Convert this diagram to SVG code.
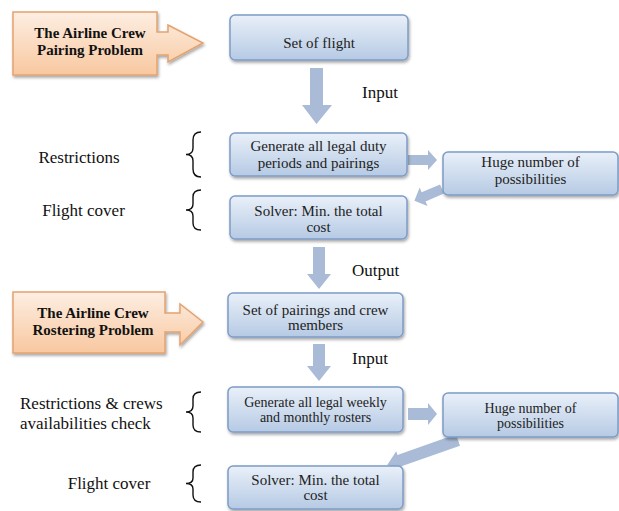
<svg xmlns="http://www.w3.org/2000/svg" width="619" height="511" viewBox="0 0 619 511">
<defs>
<linearGradient id="gb" x1="0" y1="0" x2="0" y2="1"><stop offset="0" stop-color="#e9f0f9"/><stop offset="1" stop-color="#b6cae4"/></linearGradient>
<linearGradient id="go" x1="0" y1="0" x2="0" y2="1"><stop offset="0" stop-color="#fdeee2"/><stop offset="1" stop-color="#f8c8a0"/></linearGradient>
<filter id="sh" x="-10%" y="-10%" width="120%" height="130%"><feDropShadow dx="1" dy="2" stdDeviation="1.5" flood-color="#000" flood-opacity="0.35"/></filter>
<style>
.box{fill:url(#gb);stroke:#7e9cc6;stroke-width:1.5;filter:url(#sh)}
.or{fill:url(#go);stroke:#e3a26f;stroke-width:1.5;filter:url(#sh)}
.arr{fill:#a9bbd6}
.br{fill:none;stroke:#111;stroke-width:1.4}
.bt{font-family:"Liberation Serif",serif;font-size:15px;fill:#222;text-anchor:middle}
.bs{font-size:14px}
.ot{font-family:"Liberation Serif",serif;font-size:15px;font-weight:bold;fill:#111;text-anchor:middle}
.lb{font-family:"Liberation Serif",serif;font-size:17px;fill:#111}
</style>
</defs>
<rect width="619" height="511" fill="#fff"/>
<g id="connectors">
<path class="arr" d="M310,68 H323 V105 H332 L316.5,124 L302,105 H310 Z"/>
<path class="arr" d="M313,247 H325 V274 H331 L319,289 L307,274 H313 Z"/>
<path class="arr" d="M313,344 H325 V366 H331 L319,381 L307,366 H313 Z"/>
<path class="arr" d="M408,155 H428 V150 L437,160 L428,170 V165 H408 Z"/>
<path class="arr" d="M0,-5 H20 V-10 L30,0 L20,10 V5 H0 Z" transform="translate(442,189) rotate(157)"/>
<path class="arr" d="M408,408 H428 V403 L437,414 L428,425 V420 H408 Z"/>
<path class="arr" d="M0,-6 H62 V-10 L75,0 L62,10 V6 H0 Z" transform="translate(458,440) rotate(160.6)"/>
</g>
<g id="pairing-problem"><path class="or" d="M13,12 H157 V32 H168 V25 L203,43 L168,62 V55 H157 V75 H13 Z"/><text class="ot" x="90" y="38">The Airline Crew</text><text class="ot" x="90" y="55">Pairing Problem</text></g>
<g id="set-of-flight"><rect class="box" x="230" y="15" width="178" height="45" rx="5"/><text class="bt" x="319" y="48">Set of flight</text></g>
<g id="generate1"><rect class="box" x="230" y="133" width="177" height="43" rx="5"/><text class="bt" x="318.5" y="151">Generate all legal duty</text><text class="bt" x="318.5" y="168">periods and pairings</text></g>
<g id="huge1"><rect class="box" x="443" y="152" width="175" height="43" rx="5"/><text class="bt" x="530.5" y="167">Huge number of</text><text class="bt" x="530.5" y="184">possibilities</text></g>
<g id="solver1"><rect class="box" x="230" y="196" width="177" height="43" rx="5"/><text class="bt" x="318.5" y="216">Solver: Min. the total</text><text class="bt" x="318.5" y="232">cost</text></g>
<g id="rostering-problem"><path class="or" d="M13,292 H165 V313 H180 V304 L203,322 L180,345 V332 H165 V353 H13 Z"/><text class="ot" x="93" y="318">The Airline Crew</text><text class="ot" x="93" y="335">Rostering Problem</text></g>
<g id="set-of-pairings"><rect class="box" x="228" y="293" width="175" height="44" rx="5"/><text class="bt" x="315.5" y="315">Set of pairings and crew</text><text class="bt" x="315.5" y="330">members</text></g>
<g id="generate2"><rect class="box" x="228" y="387" width="175" height="45" rx="5"/><text class="bt bs" x="315.5" y="407">Generate all legal weekly</text><text class="bt bs" x="315.5" y="422">and monthly rosters</text></g>
<g id="huge2"><rect class="box" x="443" y="393" width="175" height="44" rx="5"/><text class="bt bs" x="530.5" y="413">Huge number of</text><text class="bt bs" x="530.5" y="428">possibilities</text></g>
<g id="solver2"><rect class="box" x="228" y="466" width="175" height="43" rx="5"/><text class="bt" x="315.5" y="485">Solver: Min. the total</text><text class="bt" x="315.5" y="500">cost</text></g>
<g id="labels">
<text class="lb" x="362" y="98">Input</text>
<text class="lb" x="352" y="276">Output</text>
<text class="lb" x="352" y="364">Input</text>
<text class="lb" x="79" y="163" text-anchor="middle">Restrictions</text>
<text class="lb" x="83.5" y="216" text-anchor="middle">Flight cover</text>
<text class="lb" x="20" y="409">Restrictions &amp; crews</text>
<text class="lb" x="20" y="429">availabilities check</text>
<text class="lb" x="109" y="489" text-anchor="middle">Flight cover</text>
</g>
<g id="braces">
<path class="br" d="M201,132 Q193,132 193,140 V148 Q193,154.5 186,154.5 Q193,154.5 193,161 V169 Q193,177 201,177"/>
<path class="br" d="M201,190 Q193,190 193,197 V204 Q193,210 186,210 Q193,210 193,216 V223 Q193,230 201,230"/>
<path class="br" d="M201,392 Q193,392 193,399 V406 Q193,412 186,412 Q193,412 193,418 V425 Q193,432 201,432"/>
<path class="br" d="M201,465 Q193,465 193,472 V478 Q193,483.5 186,483.5 Q193,483.5 193,489 V495 Q193,502 201,502"/>
</g>
</svg>
